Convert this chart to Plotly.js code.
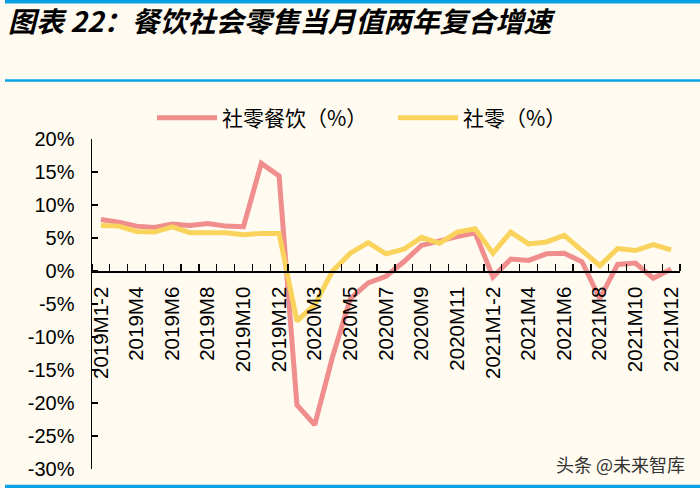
<!DOCTYPE html>
<html>
<head>
<meta charset="utf-8">
<script src="https://cdn.plot.ly/plotly-3.0.1.min.js"></script>
<style>html,body{margin:0;padding:0;background:#FFFBF0;}#chart{width:700px;height:488px;}</style>
</head>
<body>
<div id="chart"></div>
<script>
const categories = ['2019M1-2','2019M3','2019M4','2019M5','2019M6','2019M7','2019M8','2019M9','2019M10','2019M11','2019M12',
  '2020M1-2','2020M3','2020M4','2020M5','2020M6','2020M7','2020M8','2020M9','2020M10','2020M11','2020M12',
  '2021M1-2','2021M3','2021M4','2021M5','2021M6','2021M7','2021M8','2021M9','2021M10','2021M11','2021M12'];
const cateringRetail = [7.8,7.4,6.8,6.6,7.1,6.9,7.2,6.8,6.7,16.3,14.4,
  -20.3,-23.3,-13.0,-4.2,-1.8,-0.8,1.4,3.9,4.6,5.2,5.8,
  -0.9,1.8,1.6,2.6,2.7,1.4,-4.2,1.0,1.2,-1.1,0.3];
const totalRetail = [6.9,6.8,6.0,5.9,6.7,5.8,5.8,5.8,5.5,5.7,5.7,
  -7.6,-5.1,0.0,2.7,4.3,2.6,3.3,5.1,4.2,5.9,6.4,
  2.7,5.9,4.1,4.4,5.4,3.0,0.8,3.4,3.1,4.0,3.2];
const seriesNames = ['社零餐饮（%）','社零（%）'];
const yTicks = [-30,-25,-20,-15,-10,-5,0,5,10,15,20];

const W = 700, H = 488;
const M = {l:92, r:20, t:139, b:19};
const plotH = H - M.t - M.b;
const plotW = W - M.l - M.r;
const py = y => (H - M.b - y) / plotH;
const px = x => (x - M.l) / plotW;

const idx = categories.map((_, i) => i);
const labelIdx = idx.filter(i => i % 2 === 0);
const yMin = yTicks[0], yMax = yTicks[yTicks.length-1];

const traces = [
  {x: idx, y: cateringRetail, name: seriesNames[0], type:'scatter', mode:'lines',
   line:{color:'#F08E8E', width:5}},
  {x: idx, y: totalRetail, name: seriesNames[1], type:'scatter', mode:'lines',
   line:{color:'#F9D35C', width:5}}
];

const blue = '#0AA0E4';
const layout = {
  width: W, height: H,
  margin: M,
  paper_bgcolor:'#FFFBF0', plot_bgcolor:'#FFFBF0',
  font:{family:'Liberation Sans, Arial, sans-serif', color:'#000'},
  showlegend:true,
  legend:{orientation:'h', x:px(152), xanchor:'left', y:py(118), yanchor:'middle',
    font:{family:'Noto Sans CJK SC', size:21, color:'#000'}, bgcolor:'rgba(0,0,0,0)',
    itemwidth:60, entrywidth:166, entrywidthmode:'pixels'},
  title:{text:'图表 22：餐饮社会零售当月值两年复合增速', xref:'container', yref:'container',
    x:8/W, xanchor:'left', y:1-22/H, yanchor:'middle',
    font:{family:'Noto Sans CJK SC', size:28, weight:700, style:'italic', color:'#000'}},
  xaxis:{range:[-0.5, categories.length-0.5], anchor:'free', position:(0-yMin)/(yMax-yMin),
    showline:true, linecolor:'#000', linewidth:1.5, showgrid:false, zeroline:false,
    tickmode:'array', tickvals:labelIdx, ticktext:labelIdx.map(i=>categories[i]),
    ticks:'', tickangle:-90, ticklabelstandoff:6,
    tickfont:{family:'Liberation Sans, Arial', size:20.5, color:'#000'},
    minor:{tickmode:'linear', tick0:-0.5, dtick:1, ticks:'inside', ticklen:7, tickwidth:1.2, tickcolor:'#000', showgrid:false}},
  yaxis:{range:[yMin, yMax], tickmode:'array', tickvals:yTicks, ticktext:yTicks.map(v=>v+'%'),
    showline:true, linecolor:'#000', linewidth:1.5, showgrid:false, zeroline:false,
    ticks:'inside', ticklen:6, tickwidth:1.2, tickcolor:'#000', ticklabelstandoff:12,
    tickfont:{family:'Liberation Sans, Arial', size:20, color:'#000'}},
  shapes:[
    {type:'line', xref:'paper', yref:'paper', x0:px(5), x1:px(700), y0:py(1.7), y1:py(1.7), line:{color:blue, width:3.5}},
    {type:'line', xref:'paper', yref:'paper', x0:px(5), x1:px(700), y0:py(80.5), y1:py(80.5), line:{color:blue, width:2.5}},
    {type:'line', xref:'paper', yref:'paper', x0:px(5), x1:px(700), y0:py(486.5), y1:py(486.5), line:{color:blue, width:3.5}}
  ],
  annotations:[
    {text:'头条 @未来智库', xref:'paper', yref:'paper', x:px(687), y:py(464), xanchor:'right', yanchor:'middle',
     showarrow:false, font:{family:'Noto Sans CJK SC', size:18, color:'#333'}}
  ]
};
Plotly.newPlot('chart', traces, layout, {displayModeBar:false, staticPlot:true});
</script>
</body>
</html>
